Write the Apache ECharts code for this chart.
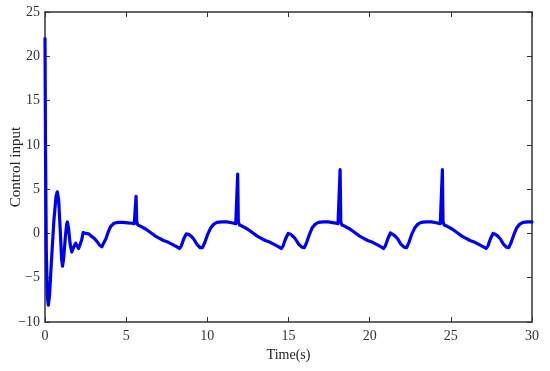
<!DOCTYPE html>
<html>
<head>
<meta charset="utf-8">
<script src="https://cdn.jsdelivr.net/npm/echarts@6/dist/echarts.min.js"></script>
<style>html,body{margin:0;padding:0;background:#fff}#c{width:550px;height:371px}</style>
</head>
<body>
<div id="c"></div>
<script>
const xTicks = [0, 5, 10, 15, 20, 25, 30];
const yTicks = [-10, -5, 0, 5, 10, 15, 20, 25];
const xName = 'Time(s)';
const yName = 'Control input';
const times = [
0, 0.03, 0.08, 0.14, 0.2, 0.28, 0.4, 0.55, 0.68, 0.76, 0.84, 0.95, 1.02, 1.08, 1.15, 1.25, 1.33, 1.38, 1.45, 1.55,
1.65, 1.72, 1.8, 1.89, 1.97, 2.07, 2.15, 2.25, 2.35, 2.42, 2.5, 2.6, 2.7, 2.85, 3.0, 3.2, 3.35, 3.5, 3.62, 3.75,
3.9, 4.05, 4.25, 4.5, 4.8, 5.1, 5.35, 5.5, 5.57, 5.61, 5.65, 5.72, 5.9, 6.2, 6.5, 6.8, 7.0, 7.3, 7.6, 7.9,
8.1, 8.28, 8.4, 8.55, 8.7, 8.85, 9.0, 9.15, 9.35, 9.55, 9.7, 9.85, 10.0, 10.2, 10.4, 10.6, 10.9, 11.2, 11.5, 11.75,
11.83, 11.87, 11.91, 11.98, 12.17, 12.47, 12.77, 13.07, 13.27, 13.57, 13.87, 14.17, 14.37, 14.55, 14.67, 14.82, 14.98, 15.12, 15.27, 15.42,
15.62, 15.82, 15.98, 16.12, 16.27, 16.45, 16.65, 16.85, 17.15, 17.45, 17.8, 18.05, 18.13, 18.18, 18.22, 18.29, 18.48, 18.78, 19.08, 19.38,
19.58, 19.88, 20.18, 20.48, 20.68, 20.85, 20.97, 21.12, 21.28, 21.42, 21.57, 21.72, 21.92, 22.12, 22.28, 22.42, 22.57, 22.77, 22.97, 23.17,
23.47, 23.8, 24.1, 24.35, 24.43, 24.48, 24.52, 24.59, 24.78, 25.08, 25.38, 25.68, 25.88, 26.18, 26.48, 26.78, 26.98, 27.17, 27.29, 27.44,
27.6, 27.74, 27.89, 28.04, 28.24, 28.42, 28.57, 28.72, 28.87, 29.05, 29.25, 29.45, 29.75, 30
];
const values = [
22, 10, -2, -7, -8.1, -7, -3, 1.5, 4.2, 4.7, 3.8, 0, -2.8, -3.7, -2.8, -0.5, 1.0, 1.3, 0.6, -1.2,
-2.1, -1.9, -1.4, -1.1, -1.3, -1.7, -1.6, -0.8, 0.1, 0.3, 0, -0.1, -0.05, -0.3, -0.5, -0.9, -1.3, -1.5, -1.3, -0.6,
0.2, 0.8, 1.15, 1.25, 1.25, 1.2, 1.15, 1.1, 1.3, 4.2, 1.3, 0.95, 0.8, 0.5, 0.1, -0.3, -0.5, -0.8, -1.0, -1.3,
-1.5, -1.7, -1.4, -0.6, -0.05, -0.1, -0.3, -0.6, -1.2, -1.6, -1.6, -1.0, -0.2, 0.6, 1.05, 1.25, 1.3, 1.3, 1.2, 1.1,
1.3, 6.7, 1.3, 0.95, 0.8, 0.5, 0.1, -0.3, -0.5, -0.8, -1.0, -1.3, -1.5, -1.7, -1.4, -0.6, 0.0, -0.1, -0.3, -0.6,
-1.2, -1.55, -1.6, -1.0, -0.2, 0.6, 1.05, 1.25, 1.3, 1.3, 1.2, 1.1, 1.3, 7.2, 1.3, 0.95, 0.8, 0.5, 0.1, -0.3,
-0.5, -0.8, -1.0, -1.3, -1.5, -1.7, -1.4, -0.6, 0.05, -0.1, -0.3, -0.6, -1.2, -1.55, -1.6, -1.0, -0.2, 0.6, 1.05, 1.25,
1.3, 1.3, 1.2, 1.1, 1.3, 7.2, 1.3, 0.95, 0.8, 0.5, 0.1, -0.3, -0.5, -0.8, -1.0, -1.3, -1.5, -1.7, -1.4, -0.6,
0.0, -0.1, -0.3, -0.6, -1.2, -1.55, -1.6, -1.0, -0.2, 0.6, 1.05, 1.25, 1.3, 1.3
];

const data = times.map((t, i) => [t, values[i]]);
const font = 'Liberation Serif';
const axisColor = '#333';
const baseAxis = {
  axisLine: { show: true, onZero: false, lineStyle: { color: axisColor, width: 1.5 } },
  axisTick: { show: true, inside: true, length: 5, lineStyle: { color: axisColor, width: 1 } },
  splitLine: { show: false },
};
const chart = echarts.init(document.getElementById('c'), null, { renderer: 'canvas' });
chart.setOption({
  animation: false,
  backgroundColor: '#fff',
  grid: { left: 45, right: 18, top: 12, bottom: 49, containLabel: false, outerBoundsMode: 'none' },
  xAxis: [
    Object.assign({}, baseAxis, {
      type: 'value', min: xTicks[0], max: xTicks[xTicks.length - 1], interval: 5,
      name: xName, nameLocation: 'middle', nameGap: 24,
      nameTextStyle: { fontFamily: font, fontSize: 14, color: '#222' },
      axisLabel: { fontFamily: font, fontSize: 14, color: '#333', margin: 7 },
    }),
    Object.assign({}, baseAxis, {
      type: 'value', position: 'top', min: 0, max: 30, interval: 5,
      axisLabel: { show: false },
    }),
  ],
  yAxis: [
    Object.assign({}, baseAxis, {
      type: 'value', min: yTicks[0], max: yTicks[yTicks.length - 1], interval: 5,
      name: yName, nameLocation: 'middle', nameGap: 21, nameMoveOverlap: false,
      nameTextStyle: { fontFamily: font, fontSize: 15, color: '#222' },
      axisLabel: { fontFamily: font, fontSize: 14, color: '#333', margin: 5,
        formatter: v => (v < 0 ? '\u2212' + Math.abs(v) : String(v)) },
    }),
    Object.assign({}, baseAxis, {
      type: 'value', position: 'right', min: -10, max: 25, interval: 5,
      axisLabel: { show: false },
    }),
  ],
  series: [{
    type: 'line',
    data: data,
    showSymbol: false,
    smooth: false,
    lineStyle: { color: '#0000f0', width: 3.2, join: 'round', cap: 'round' },
    clip: true,
  }],
});
</script>
</body>
</html>
